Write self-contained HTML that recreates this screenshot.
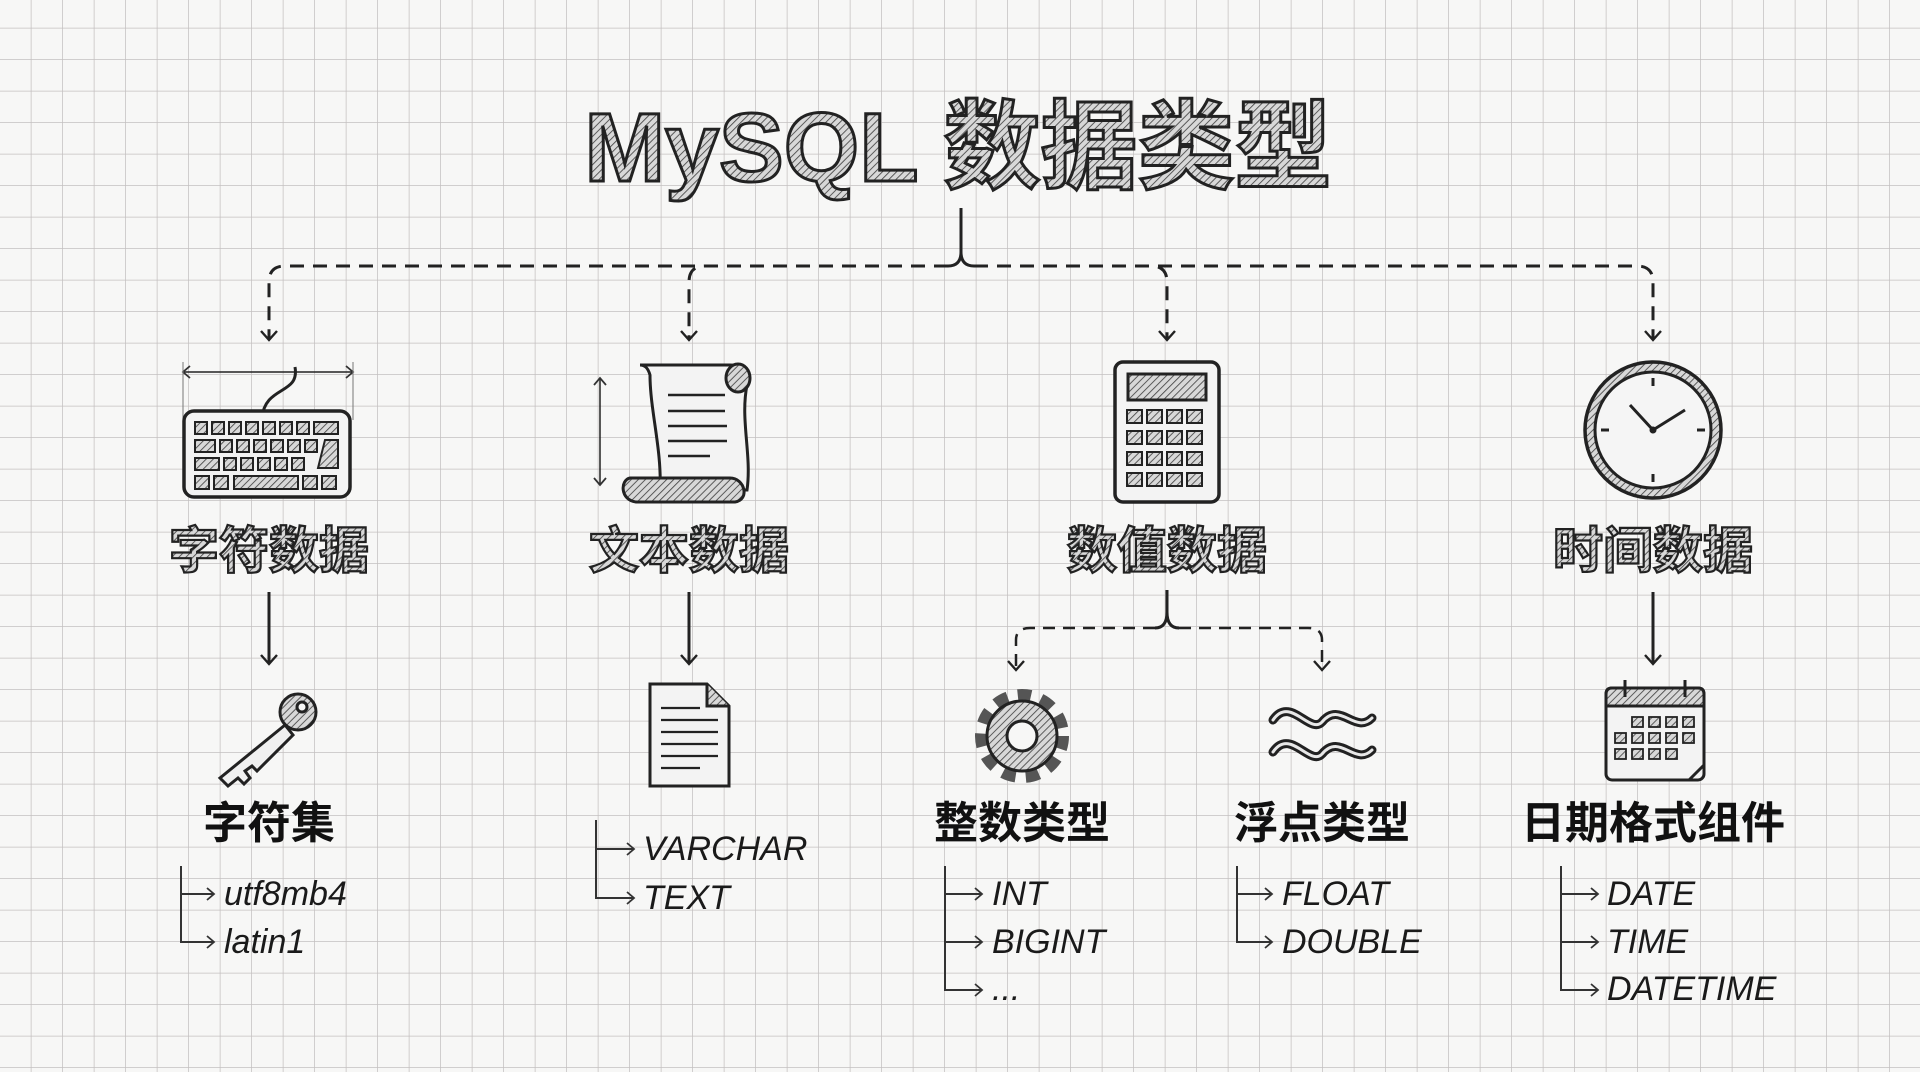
<!DOCTYPE html>
<html><head><meta charset="utf-8"><style>
html,body{margin:0;padding:0;background:#f7f7f6;}
svg{display:block}
.t{font-family:"Liberation Sans","Noto Sans CJK SC",sans-serif;font-weight:bold;}
.h{font-family:"Liberation Sans","Noto Sans CJK SC",sans-serif;font-style:italic;font-size:34px;fill:#1a1a1a;}
</style></head><body>
<svg width="1920" height="1072" viewBox="0 0 1920 1072" xmlns="http://www.w3.org/2000/svg">
<defs>
<pattern id="grid" width="31.5" height="31.5" patternUnits="userSpaceOnUse" x="0" y="-3">
<path d="M31.5 0V31.5M0 31.5H31.5" stroke="#c4c0c0" stroke-width="1.5" fill="none"/>
</pattern>
<pattern id="hatch" width="5" height="5" patternUnits="userSpaceOnUse" patternTransform="rotate(45)">
<rect width="5" height="5" fill="#d8d8d8"/><line x1="0" y1="0" x2="0" y2="5" stroke="#444" stroke-width="1.7"/>
</pattern>
<marker id="ar" markerWidth="20" markerHeight="20" refX="13" refY="10" orient="auto" markerUnits="userSpaceOnUse">
<path d="M4 2 L13 10 L4 18" fill="none" stroke="#222" stroke-width="2.4"/>
</marker>
<marker id="ar2" markerWidth="14" markerHeight="14" refX="10" refY="7" orient="auto-start-reverse" markerUnits="userSpaceOnUse">
<path d="M3 1 L10 7 L3 13" fill="none" stroke="#333" stroke-width="1.8"/>
</marker>
</defs>
<rect width="1920" height="1072" fill="#f7f7f6"/>
<rect width="1920" height="1072" fill="url(#grid)"/>

<text x="958" y="181" text-anchor="middle" class="t" font-size="97" fill="url(#hatch)" stroke="#222" stroke-width="3">MySQL 数据类型</text>

<g fill="none" stroke="#222" stroke-width="3">
<path d="M961 208 V252 Q961 266 948 266"/>
<path d="M961 252 Q961 266 974 266"/>
<path d="M948 266 H285 Q269 266 269 282 V340" stroke-dasharray="14 9" marker-end="url(#ar)"/>
<path d="M948 266 H705 Q689 266 689 282 V340" stroke-dasharray="14 9" marker-end="url(#ar)"/>
<path d="M974 266 H1151 Q1167 266 1167 282 V340" stroke-dasharray="14 9" marker-end="url(#ar)"/>
<path d="M974 266 H1637 Q1653 266 1653 282 V340" stroke-dasharray="14 9" marker-end="url(#ar)"/>
<path d="M269 592 V664" marker-end="url(#ar)"/>
<path d="M689 592 V664" marker-end="url(#ar)"/>
<path d="M1653 592 V664" marker-end="url(#ar)"/>
<path d="M1167 590 V612 Q1167 628 1155 628 M1167 612 Q1167 628 1179 628" />
<path d="M1155 628 H1030 Q1016 628 1016 640 V670" stroke-dasharray="12 8" stroke-width="2.5" marker-end="url(#ar)"/>
<path d="M1179 628 H1308 Q1322 628 1322 640 V670" stroke-dasharray="12 8" stroke-width="2.5" marker-end="url(#ar)"/>
</g>

<g stroke="#222" stroke-width="3" fill="none">
<line x1="183" y1="372" x2="353" y2="372" stroke-width="1.5" marker-end="url(#ar2)" marker-start="url(#ar2)"/>
<line x1="183" y1="362" x2="183" y2="420" stroke-width="1" stroke="#777"/>
<line x1="353" y1="362" x2="353" y2="420" stroke-width="1" stroke="#777"/>
<path d="M295 367 C300 395 265 385 262 418" />
<rect x="184" y="411" width="166" height="86" rx="10" fill="#f3f3f3" stroke-width="3.5"/>
<g fill="url(#hatch)" stroke-width="2">
<rect x="195" y="422" width="12" height="12"/><rect x="212" y="422" width="12" height="12"/><rect x="229" y="422" width="12" height="12"/><rect x="246" y="422" width="12" height="12"/><rect x="263" y="422" width="12" height="12"/><rect x="280" y="422" width="12" height="12"/><rect x="297" y="422" width="12" height="12"/><rect x="314" y="422" width="24" height="12"/>
<rect x="195" y="440" width="20" height="12"/><rect x="220" y="440" width="12" height="12"/><rect x="237" y="440" width="12" height="12"/><rect x="254" y="440" width="12" height="12"/><rect x="271" y="440" width="12" height="12"/><rect x="288" y="440" width="12" height="12"/><rect x="305" y="440" width="12" height="12"/>
<path d="M325 440 H338 V468 H318 Z"/>
<rect x="195" y="458" width="24" height="12"/><rect x="224" y="458" width="12" height="12"/><rect x="241" y="458" width="12" height="12"/><rect x="258" y="458" width="12" height="12"/><rect x="275" y="458" width="12" height="12"/><rect x="292" y="458" width="12" height="12"/>
<rect x="195" y="476" width="14" height="13"/><rect x="214" y="476" width="14" height="13"/><rect x="234" y="476" width="64" height="13"/><rect x="303" y="476" width="14" height="13"/><rect x="322" y="476" width="14" height="13"/>
</g>
</g>

<g stroke="#222" stroke-width="3" fill="#f3f3f3">
<line x1="600" y1="378" x2="600" y2="485" stroke-width="1.5" marker-end="url(#ar2)" marker-start="url(#ar2)"/>
<path d="M640 365 H730 C745 365 752 375 747 385 C740 420 752 455 747 490 L660 490 C662 450 650 410 650 375 C648 368 645 365 640 365 Z"/>
<ellipse cx="738" cy="378" rx="12" ry="14" fill="url(#hatch)"/>
<path d="M630 478 H730 C745 478 750 500 735 502 H636 C620 500 620 480 630 478 Z" fill="url(#hatch)"/>
<g stroke-width="2.5"><line x1="668" y1="395" x2="725" y2="395"/><line x1="668" y1="411" x2="725" y2="411"/><line x1="668" y1="426" x2="727" y2="426"/><line x1="668" y1="441" x2="727" y2="441"/><line x1="668" y1="456" x2="710" y2="456"/></g>
</g>

<g stroke="#222" stroke-width="3" fill="#f3f3f3">
<rect x="1115" y="362" width="104" height="140" rx="8" stroke-width="3.5"/>
<rect x="1128" y="374" width="78" height="26" fill="url(#hatch)"/>
<g fill="url(#hatch)" stroke-width="2">
<rect x="1127" y="410" width="15" height="13"/><rect x="1147" y="410" width="15" height="13"/><rect x="1167" y="410" width="15" height="13"/><rect x="1187" y="410" width="15" height="13"/>
<rect x="1127" y="431" width="15" height="13"/><rect x="1147" y="431" width="15" height="13"/><rect x="1167" y="431" width="15" height="13"/><rect x="1187" y="431" width="15" height="13"/>
<rect x="1127" y="452" width="15" height="13"/><rect x="1147" y="452" width="15" height="13"/><rect x="1167" y="452" width="15" height="13"/><rect x="1187" y="452" width="15" height="13"/>
<rect x="1127" y="473" width="15" height="13"/><rect x="1147" y="473" width="15" height="13"/><rect x="1167" y="473" width="15" height="13"/><rect x="1187" y="473" width="15" height="13"/>
</g></g>

<g stroke="#222" fill="none">
<circle cx="1653" cy="430" r="68" fill="url(#hatch)" stroke-width="3.5"/>
<circle cx="1653" cy="430" r="58" fill="#f5f5f5" stroke-width="3"/>
<g stroke-width="3"><line x1="1653" y1="378" x2="1653" y2="386"/><line x1="1653" y1="474" x2="1653" y2="482"/><line x1="1601" y1="430" x2="1609" y2="430"/><line x1="1697" y1="430" x2="1705" y2="430"/></g>
<path d="M1630 405 L1653 430 L1685 410" stroke-width="3"/>
<circle cx="1653" cy="430" r="3" fill="#222"/>
</g>

<g class="t" font-size="50" fill="url(#hatch)" stroke="#222" stroke-width="2.2" text-anchor="middle">
<text x="269" y="568">字符数据</text>
<text x="689" y="568">文本数据</text>
<text x="1167" y="568">数值数据</text>
<text x="1653" y="568">时间数据</text>
</g>

<g stroke="#222" stroke-width="3" fill="#f0f0f0">
<circle cx="298" cy="712" r="18" fill="url(#hatch)"/>
<circle cx="302" cy="707" r="5" fill="#f7f7f6"/>
<path d="M285 725 L220 778 L228 786 L238 778 L244 784 L250 778 L245 771 L252 766 L257 771 L293 735 Z"/>
</g>
<g stroke="#222" stroke-width="3" fill="#f3f3f3">
<path d="M650 684 H707 L729 706 V786 H650 Z"/>
<path d="M707 684 V706 H729" fill="url(#hatch)"/>
<g stroke-width="2.2"><line x1="661" y1="708" x2="700" y2="708"/><line x1="661" y1="720" x2="718" y2="720"/><line x1="661" y1="732" x2="718" y2="732"/><line x1="661" y1="744" x2="718" y2="744"/><line x1="661" y1="756" x2="718" y2="756"/><line x1="661" y1="768" x2="700" y2="768"/></g>
</g>
<g stroke="#222" stroke-width="3">
<circle cx="1022" cy="736" r="40" fill="none" stroke-dasharray="13 10" stroke-width="14" stroke="#555"/>
<circle cx="1022" cy="736" r="35" fill="url(#hatch)"/>
<circle cx="1022" cy="736" r="15" fill="#f7f7f6"/>
</g>
<g stroke="#222" stroke-width="9" fill="none" stroke-linecap="round">
<path d="M1273 720 C1290 695 1310 735 1322 722 C1340 700 1355 735 1372 718" />
<path d="M1273 752 C1290 727 1310 767 1322 754 C1340 732 1355 767 1372 750" />
</g>
<g stroke="#e8e8e8" stroke-width="3" fill="none" stroke-linecap="round">
<path d="M1273 720 C1290 695 1310 735 1322 722 C1340 700 1355 735 1372 718" />
<path d="M1273 752 C1290 727 1310 767 1322 754 C1340 732 1355 767 1372 750" />
</g>
<g stroke="#222" stroke-width="3" fill="#f3f3f3">
<rect x="1606" y="688" width="98" height="92" rx="6"/>
<path d="M1606 706 H1704 V694 Q1704 688 1698 688 H1612 Q1606 688 1606 694 Z" fill="url(#hatch)"/>
<line x1="1625" y1="680" x2="1625" y2="697"/><line x1="1685" y1="680" x2="1685" y2="697"/>
<g fill="url(#hatch)" stroke-width="1.8">
<rect x="1632" y="717" width="11" height="10"/><rect x="1649" y="717" width="11" height="10"/><rect x="1666" y="717" width="11" height="10"/><rect x="1683" y="717" width="11" height="10"/>
<rect x="1615" y="733" width="11" height="10"/><rect x="1632" y="733" width="11" height="10"/><rect x="1649" y="733" width="11" height="10"/><rect x="1666" y="733" width="11" height="10"/><rect x="1683" y="733" width="11" height="10"/>
<rect x="1615" y="749" width="11" height="10"/><rect x="1632" y="749" width="11" height="10"/><rect x="1649" y="749" width="11" height="10"/><rect x="1666" y="749" width="11" height="10"/>
</g>
<path d="M1704 765 L1689 780" />
</g>

<g class="t" font-size="44" fill="#111" text-anchor="middle">
<text x="269" y="838">字符集</text>
<text x="1022" y="838">整数类型</text>
<text x="1322" y="838">浮点类型</text>
<text x="1653" y="838">日期格式组件</text>
</g>

<g stroke="#333" stroke-width="2" fill="none">
<path d="M181 866 V942 H214" marker-end="url(#ar2)"/><path d="M181 894 H214" marker-end="url(#ar2)"/>
<path d="M596 820 V898 H634" marker-end="url(#ar2)"/><path d="M596 849 H634" marker-end="url(#ar2)"/>
<path d="M945 866 V990 H982" marker-end="url(#ar2)"/><path d="M945 894 H982" marker-end="url(#ar2)"/><path d="M945 942 H982" marker-end="url(#ar2)"/>
<path d="M1237 866 V942 H1272" marker-end="url(#ar2)"/><path d="M1237 894 H1272" marker-end="url(#ar2)"/>
<path d="M1561 866 V990 H1598" marker-end="url(#ar2)"/><path d="M1561 894 H1598" marker-end="url(#ar2)"/><path d="M1561 942 H1598" marker-end="url(#ar2)"/>
</g>
<g class="h">
<text x="224" y="905">utf8mb4</text><text x="224" y="953">latin1</text>
<text x="643" y="860">VARCHAR</text><text x="643" y="909">TEXT</text>
<text x="992" y="905">INT</text><text x="992" y="953">BIGINT</text><text x="992" y="1000">...</text>
<text x="1282" y="905">FLOAT</text><text x="1282" y="953">DOUBLE</text>
<text x="1607" y="905">DATE</text><text x="1607" y="953">TIME</text><text x="1607" y="1000">DATETIME</text>
</g>
</svg>
</body></html>
